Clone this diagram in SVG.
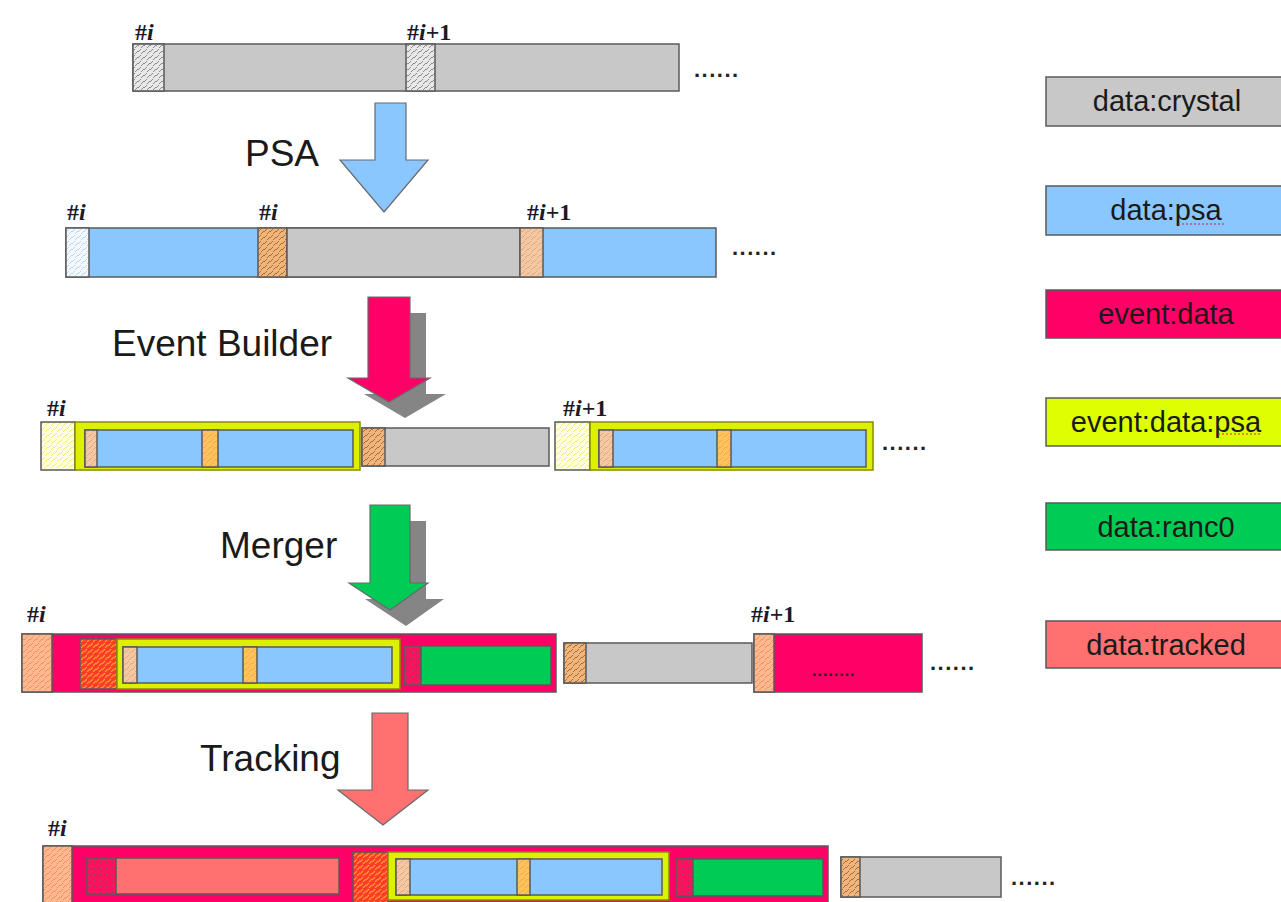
<svg xmlns="http://www.w3.org/2000/svg" width="1281" height="902" viewBox="0 0 1281 902">
  <style>
    .bar { stroke: #5a5a5a; stroke-width: 1.5; }
    .gray { fill: #C8C8C8; }
    .blue { fill: #8AC6FF; }
    .crimson { fill: #FF0066; }
    .yellow { fill: #DDF000; stroke: #8a8a00; stroke-width: 1.5; }
    .green { fill: #00CC55; }
    .salmon { fill: #FF7070; }
    .idx { font-family: "Liberation Serif", serif; font-weight: bold; font-size: 24px; fill: #1a1a2a; }
    .idx tspan.i { font-style: italic; }
    .stage { font-family: "Liberation Sans", Arial, sans-serif; font-size: 37px; fill: #1a1a1a; }
    .legend { font-family: "Liberation Sans", Arial, sans-serif; font-size: 29px; fill: #1a1a1a; text-anchor: middle; }
    .dots { font-family: "Liberation Sans", Arial, sans-serif; font-size: 22px; font-weight: bold; fill: #222; letter-spacing: 1.5px; }
    .arrow { stroke: #6a6a6a; stroke-width: 1.2; }
    .shadow { fill: #858585; }
    .squiggle { fill: none; stroke: #e02020; stroke-width: 1.2; stroke-dasharray: 2 2; }
  </style>
  <defs>
    <pattern id="hGray" patternUnits="userSpaceOnUse" width="6" height="6">
      <rect width="6" height="6" fill="#e8e8e8"/>
      <path d="M0 4 L3 1 M3 6 L6 3" stroke="#8a8a8a" stroke-width="1"/>
    </pattern>
    <pattern id="hPale" patternUnits="userSpaceOnUse" width="6" height="6">
      <rect width="6" height="6" fill="#f4f8ff"/>
      <path d="M0 4 L3 1 M3 6 L6 3" stroke="#b8d4ee" stroke-width="1"/>
    </pattern>
    <pattern id="hOrange" patternUnits="userSpaceOnUse" width="6" height="6">
      <rect width="6" height="6" fill="#F0B57A"/>
      <path d="M0 4 L3 1 M3 6 L6 3" stroke="#a86c3c" stroke-width="1"/>
    </pattern>
    <pattern id="hPeach" patternUnits="userSpaceOnUse" width="6" height="6">
      <rect width="6" height="6" fill="#FFB890"/>
      <path d="M0 4 L3 1 M3 6 L6 3" stroke="#e89060" stroke-width="1"/>
    </pattern>
    <pattern id="hYellow" patternUnits="userSpaceOnUse" width="6" height="6">
      <rect width="6" height="6" fill="#FFFFE0"/>
      <path d="M0 4 L3 1 M3 6 L6 3" stroke="#eeee70" stroke-width="1"/>
    </pattern>
    <pattern id="hRed" patternUnits="userSpaceOnUse" width="6" height="6">
      <rect width="6" height="6" fill="#FF3A2A"/>
      <path d="M0 4 L3 1 M3 6 L6 3" stroke="#ff9a30" stroke-width="1.2"/>
    </pattern>
    <pattern id="hCrimson" patternUnits="userSpaceOnUse" width="6" height="6">
      <rect width="6" height="6" fill="#FF1060"/>
      <path d="M0 4 L3 1 M3 6 L6 3" stroke="#a84050" stroke-width="1"/>
    </pattern>
    <pattern id="hAmber" patternUnits="userSpaceOnUse" width="6" height="6">
      <rect width="6" height="6" fill="#FFC35E"/>
      <path d="M0 4 L3 1 M3 6 L6 3" stroke="#f0a848" stroke-width="1"/>
    </pattern>
    <pattern id="hTan" patternUnits="userSpaceOnUse" width="6" height="6">
      <rect width="6" height="6" fill="#F5C8A4"/>
      <path d="M0 4 L3 1 M3 6 L6 3" stroke="#e0a880" stroke-width="1"/>
    </pattern>
  </defs>

  <!-- stream 1: raw crystal data -->
  <g id="stream-crystal">
    <rect class="bar gray" x="133" y="44" width="546" height="47"/>
    <rect class="bar" fill="url(#hGray)" x="133" y="44" width="31" height="47"/>
    <rect class="bar" fill="url(#hGray)" x="406" y="44" width="29" height="47"/>
    <text class="idx" x="135" y="40">#<tspan class="i">i</tspan></text>
    <text class="idx" x="407" y="40">#<tspan class="i">i</tspan>+1</text>
    <text class="dots" x="694" y="77">......</text>
  </g>

  <!-- stream 2: after pulse shape analysis -->
  <g id="stream-psa">
    <rect class="bar blue" x="66" y="228" width="650" height="49"/>
    <rect class="bar" fill="url(#hPale)" x="66" y="228" width="23" height="49"/>
    <rect class="bar" fill="url(#hOrange)" x="258" y="228" width="29" height="49"/>
    <rect class="bar gray" x="287" y="228" width="233" height="49"/>
    <rect class="bar" fill="url(#hTan)" x="520" y="228" width="23" height="49"/>
    <text class="idx" x="67" y="220">#<tspan class="i">i</tspan></text>
    <text class="idx" x="259" y="220">#<tspan class="i">i</tspan></text>
    <text class="idx" x="527" y="220">#<tspan class="i">i</tspan>+1</text>
    <text class="dots" x="732" y="255">......</text>
  </g>

  <!-- stream 3: built events -->
  <g id="stream-events">
    <rect class="bar" fill="url(#hYellow)" x="41" y="422" width="34" height="48"/>
    <rect class="yellow" x="75" y="422" width="285" height="48"/>
    <rect class="bar blue" x="85" y="430" width="268" height="37"/>
    <rect class="bar" fill="url(#hTan)" x="85" y="430" width="12" height="37"/>
    <rect class="bar" fill="url(#hAmber)" x="202" y="430" width="16" height="37"/>
    <rect class="bar gray" x="362" y="428" width="187" height="38"/>
    <rect class="bar" fill="url(#hOrange)" x="362" y="428" width="23" height="38"/>
    <rect class="bar" fill="url(#hYellow)" x="555" y="422" width="35" height="48"/>
    <rect class="yellow" x="590" y="422" width="283" height="48"/>
    <rect class="bar blue" x="599" y="430" width="267" height="37"/>
    <rect class="bar" fill="url(#hTan)" x="599" y="430" width="14" height="37"/>
    <rect class="bar" fill="url(#hAmber)" x="717" y="430" width="14" height="37"/>
    <text class="idx" x="47" y="416">#<tspan class="i">i</tspan></text>
    <text class="idx" x="563" y="416">#<tspan class="i">i</tspan>+1</text>
    <text class="dots" x="882" y="450">......</text>
  </g>

  <!-- stream 4: merged with ancillary data -->
  <g id="stream-merged">
    <rect class="bar crimson" x="22" y="634" width="534" height="58"/>
    <rect class="bar" fill="url(#hPeach)" x="22" y="634" width="30" height="58"/>
    <rect class="bar" fill="url(#hRed)" x="80" y="639" width="37" height="50"/>
    <rect class="yellow" x="117" y="639" width="283" height="50"/>
    <rect class="bar blue" x="123" y="647" width="269" height="36"/>
    <rect class="bar" fill="url(#hTan)" x="123" y="647" width="14" height="36"/>
    <rect class="bar" fill="url(#hAmber)" x="243" y="647" width="14" height="36"/>
    <rect class="bar green" x="404" y="646" width="147" height="39"/>
    <rect class="bar" fill="url(#hCrimson)" x="404" y="646" width="17" height="39"/>
    <rect class="bar gray" x="564" y="643" width="188" height="40"/>
    <rect class="bar" fill="url(#hOrange)" x="564" y="643" width="22" height="40"/>
    <rect class="bar crimson" x="754" y="634" width="168" height="58"/>
    <rect class="bar" fill="url(#hPeach)" x="754" y="634" width="20" height="58"/>
    <text class="dots" x="812" y="676" style="font-size:16px;letter-spacing:1px">........</text>
    <text class="idx" x="27" y="622">#<tspan class="i">i</tspan></text>
    <text class="idx" x="751" y="622">#<tspan class="i">i</tspan>+1</text>
    <text class="dots" x="930" y="670">......</text>
  </g>

  <!-- stream 5: tracked events -->
  <g id="stream-tracked">
    <rect class="bar crimson" x="43" y="846" width="785" height="60"/>
    <rect class="bar" fill="url(#hPeach)" x="43" y="846" width="29" height="60"/>
    <rect class="bar" fill="url(#hCrimson)" x="87" y="858" width="29" height="36"/>
    <rect class="bar salmon" x="116" y="858" width="223" height="36"/>
    <rect class="bar" fill="url(#hRed)" x="353" y="852" width="35" height="52"/>
    <rect class="yellow" x="388" y="852" width="281" height="48"/>
    <rect class="bar blue" x="396" y="859" width="266" height="36"/>
    <rect class="bar" fill="url(#hTan)" x="396" y="859" width="14" height="36"/>
    <rect class="bar" fill="url(#hAmber)" x="517" y="859" width="13" height="36"/>
    <rect class="bar green" x="676" y="859" width="147" height="37"/>
    <rect class="bar" fill="url(#hCrimson)" x="676" y="859" width="17" height="37"/>
    <rect class="bar gray" x="841" y="857" width="160" height="40"/>
    <rect class="bar" fill="url(#hOrange)" x="841" y="857" width="19" height="40"/>
    <text class="idx" x="48" y="836">#<tspan class="i">i</tspan></text>
    <text class="dots" x="1011" y="885">......</text>
  </g>

  <!-- processing steps between streams -->
  <g id="connectors">
    <path class="arrow" fill="#8AC6FF" d="M375 103 H406 V160 H428 L384 212 L340 160 H375 Z"/>
    <path class="shadow" d="M384 313 H426 V394 H446 L405 418 L364 394 H384 Z"/>
    <path class="arrow" fill="#FF0066" d="M368 297 H410 V378 H430 L389 402 L348 378 H368 Z"/>
    <path class="shadow" d="M386 521 H426 V599 H444 L406 626 L365 599 H386 Z"/>
    <path class="arrow" fill="#00CC55" d="M370 505 H410 V583 H428 L390 610 L349 583 H370 Z"/>
    <path class="arrow" fill="#FF7070" d="M372 713 H408 V790 H428 L383 825 L338 790 H372 Z"/>
  </g>

  <g id="step-labels">
    <text class="stage" x="245" y="166">PSA</text>
    <text class="stage" x="112" y="356">Event Builder</text>
    <text class="stage" x="220" y="558">Merger</text>
    <text class="stage" x="200" y="771">Tracking</text>
  </g>

  <!-- legend of data types -->
  <g id="legend-crystal">
    <rect class="bar gray" x="1046" y="77" width="245" height="49"/>
    <text class="legend" x="1167" y="111">data:crystal</text>
  </g>
  <g id="legend-psa">
    <rect class="bar blue" x="1046" y="186" width="245" height="49"/>
    <text class="legend" x="1166" y="220">data:psa</text>
    <path class="squiggle" d="M1178 224 H1225"/>
  </g>
  <g id="legend-event">
    <rect class="bar crimson" x="1046" y="290" width="245" height="48"/>
    <text class="legend" x="1166" y="324">event:data</text>
  </g>
  <g id="legend-event-psa">
    <rect class="bar" fill="#DDFF00" x="1046" y="398" width="245" height="48"/>
    <text class="legend" x="1166" y="432">event:data:psa</text>
    <path class="squiggle" d="M1218 434 H1262"/>
  </g>
  <g id="legend-ranc0">
    <rect class="bar green" x="1046" y="503" width="245" height="47"/>
    <text class="legend" x="1166" y="537">data:ranc0</text>
  </g>
  <g id="legend-tracked">
    <rect class="bar salmon" x="1046" y="621" width="245" height="47"/>
    <text class="legend" x="1166" y="655">data:tracked</text>
  </g>
</svg>
